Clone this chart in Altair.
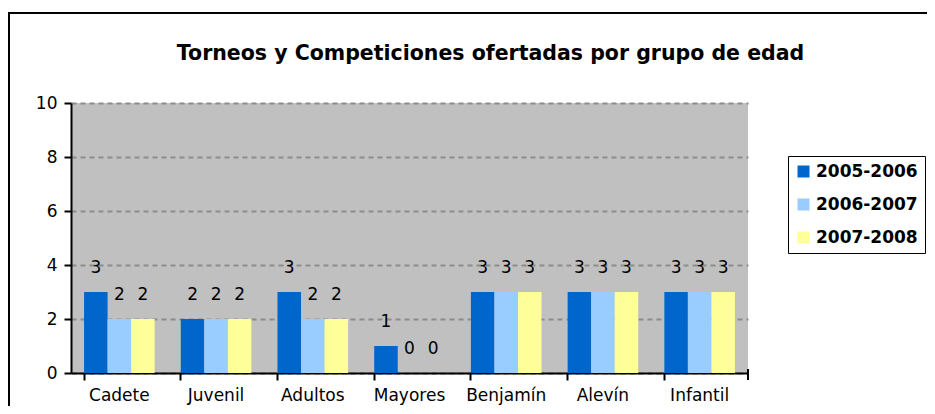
import altair as alt
import pandas as pd

categories = ["Cadete", "Juvenil", "Adultos", "Mayores", "Benjamín", "Alevín", "Infantil"]
series = ["2005-2006", "2006-2007", "2007-2008"]
v_2005_2006 = [3, 2, 3, 1, 3, 3, 3]
v_2006_2007 = [2, 2, 2, 0, 3, 3, 3]
v_2007_2008 = [2, 2, 2, 0, 3, 3, 3]
colors = ["#0066CC", "#99CCFF", "#FFFF99"]

rows = []
for s, vals in zip(series, [v_2005_2006, v_2006_2007, v_2007_2008]):
    for c, v in zip(categories, vals):
        rows.append({"grupo": c, "temporada": s, "valor": v})
df = pd.DataFrame(rows)

FONT = "DejaVu Sans"

x_enc = alt.X("grupo:N", sort=categories, title=None,
              scale=alt.Scale(paddingInner=0.27, paddingOuter=0.135),
              axis=alt.Axis(labelAngle=0, bandPosition=0, ticks=True, tickSize=7,
                            tickColor="black", tickWidth=2, domainColor="black",
                            domainWidth=2, labelFont=FONT, labelFontSize=17,
                            labelColor="black", labelPadding=7, grid=False))
y_enc = alt.Y("valor:Q", title=None,
              scale=alt.Scale(domain=[0, 10], nice=False),
              axis=alt.Axis(values=[0, 2, 4, 6, 8, 10], tickSize=7, tickColor="black",
                            tickWidth=2, domainColor="black", domainWidth=2,
                            labelFont=FONT, labelFontSize=17, labelColor="black",
                            labelPadding=7, grid=True, gridColor="#8c8c8c",
                            gridDash=[5, 4], gridWidth=2))
xoff = alt.XOffset("temporada:N", sort=series)
color_enc = alt.Color("temporada:N", sort=series,
                      scale=alt.Scale(domain=series, range=colors),
                      legend=alt.Legend(title=None, orient="none", legendX=717, legendY=53,
                                        symbolType="square", symbolSize=144,
                                        symbolStrokeWidth=0, labelFont=FONT,
                                        labelFontSize=17, labelFontWeight="bold",
                                        labelColor="black", rowPadding=15,
                                        padding=7, strokeColor="black",
                                        fillColor="white", labelOffset=4))

base = alt.Chart(df)
bars = base.mark_bar(opacity=1).encode(x=x_enc, y=y_enc, xOffset=xoff, color=color_enc)
labels = base.mark_text(baseline="middle", dy=-24, font=FONT, fontSize=17,
                        color="black").encode(
    x=alt.X("grupo:N", sort=categories), y="valor:Q", xOffset=xoff,
    text="valor:Q")
end_tick = alt.Chart(pd.DataFrame({"k": [0]})).mark_rule(
    color="black", strokeWidth=2, clip=False).encode(
    x=alt.value(677), y=alt.value(266), y2=alt.value(277))
border = alt.Chart(pd.DataFrame({"k": [0]})).mark_rect(
    filled=False, stroke="black", strokeWidth=2, clip=False).encode(
    x=alt.value(-62), x2=alt.value(1200), y=alt.value(-90), y2=alt.value(1200))

chart = alt.layer(bars, labels, end_tick, border).properties(
    width=677, height=270,
    padding={"left": 63, "top": 95, "right": 179, "bottom": 33},
    autosize=alt.AutoSizeParams(type="none"),
    title=alt.TitleParams("Torneos y Competiciones ofertadas por grupo de edad",
                          font=FONT, fontSize=20.5, fontWeight="bold", color="black",
                          anchor="middle", dx=81, offset=-52),
).configure_view(fill="#C0C0C0", stroke=None)

chart.save("out.html", embed_options={"renderer": "svg", "actions": False})
